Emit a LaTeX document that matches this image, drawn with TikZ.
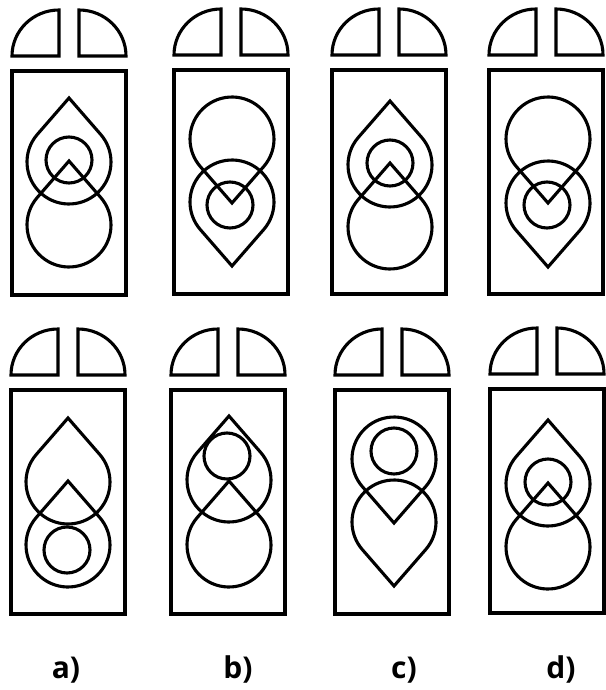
\documentclass[tikz,border=0pt]{standalone}
\usepackage{fontspec}
\setsansfont{Open Sans}

\tikzset{
  pics/drop/.style={code={
    \draw (0,{64*(#1)}) -- ({131-90*(#1)}:42)
      arc[start angle={131-90*(#1)},end angle={-131-90*(#1)},radius=42] -- cycle;
  }},
  lbl/.style={font=\sffamily\bfseries\fontsize{30}{32}\selectfont,anchor=base,inner sep=0pt},
}

\begin{document}
\begin{tikzpicture}[x=1pt,y=-1pt,line width=3.1pt,line join=miter]
  \useasboundingbox (0,0) rectangle (605,690);

  % panel: left/top of door, centre x, upper drop y/dir, lower drop y/dir, small ring
  \foreach \px/\py/\cx/\ya/\sa/\yb/\sb/\rx/\ry in {
      12/71/57/91/-1/154/-1/57/89,
      174/70/58/69/1/132/1/56/135,
      332/70/58/95/-1/157/-1/58/93,
      489/70/59/69/1/133/1/58/135,
      11/390/57/92/-1/155/-1/56/160,
      171/390/58/90/-1/155/-1/56/66,
      335/390/59/69/1/132/1/59/61,
      490/389/58/95/-1/158/-1/58/93} {
    \begin{scope}[shift={(\px,\py)}]
      \draw (47,-15) -- (47,-61) arc[start angle=270,end angle=180,x radius=47,y radius=46] -- cycle;
      \draw (67,-15) -- (67,-61) arc[start angle=270,end angle=360,x radius=47,y radius=46] -- cycle;
      \draw (0,0) rectangle (114,224);
      \pic at (\cx,\ya) {drop=\sa};
      \pic at (\cx,\yb) {drop=\sb};
      \draw (\rx,\ry) circle[radius=23];
    \end{scope}
  }

  \foreach \lx/\lab in {66/a,238/b,404/c,561/d}
    \node[lbl] (lab\lab) at (\lx,678) {\lab)};
\end{tikzpicture}
\end{document}
